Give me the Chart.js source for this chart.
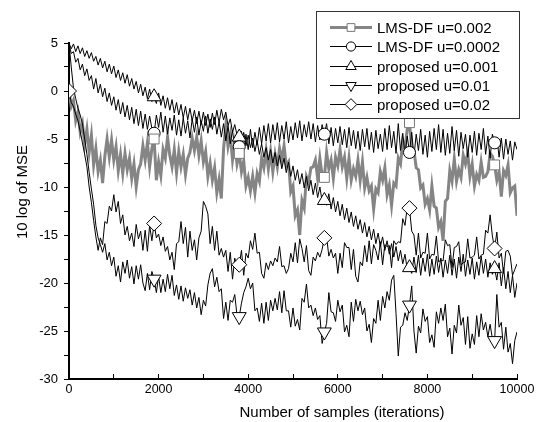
<!DOCTYPE html>
<html><head><meta charset="utf-8">
<script src="https://cdn.jsdelivr.net/npm/chart.js"></script>
<style>html,body{margin:0;padding:0;background:#fff}</style>
</head><body>
<canvas id="c" width="543" height="422"></canvas>
<script>
// ---------------- DATA ----------------
const seriesNames = ['LMS-DF u=0.002', 'LMS-DF u=0.0002', 'proposed u=0.001', 'proposed u=0.01', 'proposed u=0.02'];
const sampleStep = 50;
const samples = Array.from({length: 201}, (_, i) => i * sampleStep);

const lmsDf002 = [
 0, -1.6, -1.0, -3.1, -2.2, -4.3, -3.4, -5.6, -4.0, -6.4,
 -4.6, -7.7, -6.0, -8.4, -7.2, -9.6, -6.8, -5.0, -6.9, -5.1,
 -7.2, -5.8, -8.3, -6.6, -8.6, -6.5, -8.2, -7.0, -9.1, -7.6,
 -10.0, -8.2, -7.6, -5.7, -7.2, -5.4, -7.9, -6.0, -5.0, -9.3,
 -7.4, -8.8, -6.1, -7.0, -4.8, -6.7, -7.9, -6.1, -8.5, -6.3,
 -7.9, -6.6, -8.7, -7.0, -6.4, -4.9, -6.2, -4.8, -6.7, -5.2,
 -7.4, -6.3, -8.9, -7.5, -9.3, -8.0, -10.6, -9.2, -11.2, -6.0,
 -3.6, -5.8, -4.6, -7.2, -5.5, -7.6, -6.5, -8.4, -7.3, -9.9,
 -9.0, -10.4, -8.9, -10.6, -8.6, -9.4, -7.0, -8.0, -6.2, -8.1,
 -6.3, -8.4, -6.6, -7.9, -6.0, -7.2, -5.7, -7.8, -7.4, -10.5,
 -9.9, -13.0, -12.4, -15.0, -11.4, -12.2, -8.9, -9.5, -8.0, -7.9,
 -7.2, -9.1, -7.0, -8.8, -9.0, -6.4, -8.1, -7.2, -9.1, -6.9,
 -7.8, -6.1, -7.9, -6.9, -9.1, -7.0, -9.3, -8.1, -8.9, -7.2,
 -9.3, -7.4, -10.1, -9.0, -10.4, -9.9, -12.3, -10.2, -10.6, -8.4,
 -9.3, -8.0, -10.8, -9.8, -11.9, -9.6, -9.9, -7.0, -7.6, -5.2,
 -6.0, -4.0, -3.3, -6.0, -6.2, -8.0, -8.2, -10.1, -9.8, -11.8,
 -11.2, -12.4, -9.9, -12.0, -12.2, -14.2, -13.6, -15.6, -11.5, -11.2,
 -8.3, -9.4, -7.1, -9.4, -8.2, -9.0, -6.7, -7.6, -6.5, -8.9,
 -7.6, -9.9, -8.7, -9.3, -7.4, -9.0, -8.9, -8.4, -6.5, -6.8,
 -7.7, -9.3, -8.4, -11.0, -8.3, -8.8, -7.7, -10.6, -10.1, -9.9,
 -13.0];

const lmsDf0002 = [
 5, 3.9, 4.1, 3.0, 3.4, 2.2, 2.8, 1.6, 2.3, 1.1,
 1.6, 0.2, 1.3, -0.2, 0.7, -0.6, 0.3, -1.1, -0.2, -1.5,
 -0.6, -2.0, -0.9, -2.4, -1.2, -2.7, -1.5, -3.0, -1.7, -3.4,
 -1.9, -3.6, -2.1, -3.9, -2.4, -4.0, -2.6, -3.9, -4.4, -2.5,
 -3.8, -2.2, -4.3, -2.6, -4.5, -2.8, -4.1, -2.5, -4.6, -3.0,
 -4.7, -2.8, -4.4, -3.1, -4.9, -2.9, -4.3, -2.7, -4.6, -3.1,
 -4.2, -2.6, -4.4, -2.9, -4.0, -2.7, -4.5, -3.2, -4.8, -3.4,
 -5.2, -3.6, -5.5, -4.1, -6.0, -4.3, -5.8, -4.2, -6.3, -4.5,
 -6.1, -4.0, -5.9, -4.3, -5.6, -3.8, -5.5, -3.6, -5.2, -3.4,
 -5.4, -3.5, -5.1, -3.3, -5.3, -3.6, -5.0, -3.2, -5.4, -3.7,
 -5.1, -3.3, -4.9, -3.1, -5.2, -3.5, -4.8, -3.2, -5.0, -3.4,
 -5.3, -3.6, -5.1, -3.5, -4.5, -3.4, -5.5, -3.8, -5.7, -3.9,
 -5.4, -3.7, -5.6, -4.0, -5.9, -3.8, -5.7, -4.1, -6.0, -4.2,
 -6.2, -4.0, -5.8, -3.9, -6.1, -4.3, -6.4, -4.1, -6.0, -4.5,
 -6.3, -3.9, -6.1, -3.6, -5.9, -4.2, -6.5, -3.4, -6.2, -4.4,
 -6.6, -4.7, -6.4, -4.3, -6.8, -4.5, -6.2, -4.0, -6.6, -4.6,
 -6.9, -4.2, -6.3, -3.9, -6.1, -3.5, -6.4, -4.0, -6.7, -4.4,
 -6.5, -3.7, -6.2, -4.1, -6.8, -4.3, -6.0, -4.5, -6.9, -4.6,
 -6.4, -4.2, -6.7, -4.4, -6.1, -3.9, -6.6, -4.7, -7.0, -4.5,
 -5.4, -4.8, -6.9, -4.9, -7.1, -5.0, -6.6, -5.2, -7.2, -5.3,
 -6.1];

const proposed001 = [
 5, 4.4, 4.9, 4.1, 4.7, 3.9, 4.5, 3.6, 4.2, 3.4,
 4.0, 3.1, 3.6, 2.7, 3.4, 2.4, 3.1, 2.0, 2.8, 1.8,
 2.6, 1.4, 2.2, 1.1, 1.9, 0.8, 1.7, 0.5, 1.3, 0.2,
 1.0, -0.2, 0.7, -0.5, 0.4, -0.8, 0.2, -1.1, -0.6, -1.3,
 -0.2, -1.5, -0.5, -1.8, -0.7, -2.0, -0.9, -2.3, -1.2, -2.5,
 -1.4, -2.8, -1.6, -3.0, -1.8, -3.1, -2.0, -3.4, -2.1, -3.5,
 -2.2, -3.6, -2.4, -3.8, -2.3, -3.5, -2.0, -3.3, -1.9, -3.0,
 -2.2, -3.6, -2.9, -4.3, -3.5, -4.6, -4.8, -5.4, -4.3, -5.7,
 -4.6, -5.9, -4.9, -6.3, -5.2, -6.6, -5.5, -6.9, -5.9, -7.2,
 -6.1, -7.5, -6.4, -7.8, -6.7, -8.1, -7.0, -8.5, -7.4, -8.9,
 -7.8, -9.3, -8.2, -9.7, -8.6, -10.1, -8.9, -10.4, -9.3, -10.8,
 -9.6, -11.1, -10.0, -11.5, -11.4, -11.9, -10.7, -12.3, -11.1, -12.6,
 -11.5, -13.0, -11.8, -13.4, -12.2, -13.7, -12.6, -14.1, -13.0, -14.4,
 -13.4, -14.8, -13.7, -15.2, -14.1, -15.5, -14.4, -15.9, -14.8, -16.2,
 -15.2, -16.6, -15.6, -17.0, -15.9, -17.3, -16.2, -17.7, -16.6, -18.0,
 -17.0, -18.6, -18.4, -19.0, -17.3, -18.9, -17.1, -19.2, -17.4, -18.8,
 -17.0, -19.3, -17.5, -19.1, -17.2, -18.9, -17.4, -19.4, -17.6, -19.0,
 -17.1, -19.2, -17.5, -19.5, -17.3, -18.8, -17.0, -19.3, -17.6, -19.1,
 -17.4, -19.6, -17.8, -19.2, -17.2, -19.0, -17.5, -19.4, -17.9, -19.1,
 -18.5, -19.7, -17.9, -20.3, -18.4, -20.6, -18.8, -21.0, -19.2, -21.5,
 -20.0];

const proposed01 = [
 5, 2.5, 0.3, -0.8, -1.8, -2.5, -3.4, -5.0, -6.6, -8.5,
 -10.2, -11.8, -14.0, -15.3, -16.0, -16.8, -15.9, -17.6, -16.8, -18.2,
 -17.3, -19.3, -18.2, -19.9, -17.8, -19.0, -17.6, -19.5, -18.3, -20.1,
 -18.2, -19.6, -18.1, -20.0, -20.8, -19.0, -20.7, -18.8, -19.6, -21.0,
 -19.3, -21.0, -19.6, -20.9, -19.1, -20.6, -19.2, -21.3, -20.2, -21.7,
 -20.3, -21.9, -20.5, -21.6, -20.7, -22.3, -21.0, -22.6, -21.5, -23.3,
 -21.8, -22.4, -20.2, -19.0, -18.5, -20.4, -19.4, -20.9, -20.6, -23.7,
 -22.0, -23.9, -21.8, -22.0, -21.2, -23.4, -23.5, -22.1, -21.0, -20.4,
 -19.5, -20.6, -20.0, -22.9, -22.6, -24.0, -22.1, -24.2, -22.0, -23.9,
 -21.8, -22.9, -21.6, -22.8, -20.9, -23.1, -20.8, -22.9, -22.9, -24.6,
 -22.6, -24.5, -23.8, -24.9, -21.6, -22.0, -20.1, -22.6, -22.3, -23.4,
 -22.6, -23.8, -23.4, -26.3, -25.1, -24.2, -21.0, -23.0, -23.1, -24.0,
 -21.8, -23.0, -22.3, -25.1, -24.4, -25.6, -22.0, -24.0, -21.7, -22.9,
 -21.9, -23.3, -22.6, -25.0, -24.3, -26.2, -23.7, -24.2, -21.8, -23.9,
 -21.4, -22.6, -20.9, -21.8, -19.7, -19.2, -23.2, -27.6, -24.6, -24.4,
 -23.1, -23.9, -22.3, -20.3, -25.0, -27.3, -24.5, -25.2, -22.7, -24.0,
 -23.5, -26.2, -25.4, -26.7, -23.0, -24.2, -22.6, -23.9, -22.2, -25.6,
 -24.7, -27.4, -24.4, -25.2, -22.3, -24.4, -23.6, -26.4, -23.5, -26.8,
 -25.3, -26.4, -23.4, -25.6, -23.2, -24.9, -24.1, -25.6, -24.3, -25.8,
 -26.0, -21.2, -24.6, -24.1, -26.9, -24.6, -27.2, -26.3, -28.4, -26.0,
 -25.1];

const proposed02 = [
 0, -1.2, -1.6, -2.4, -3.1, -4.2, -5.4, -6.6, -7.9, -10.0,
 -11.6, -13.5, -15.2, -16.6, -15.3, -16.0, -13.6, -13.8, -12.0, -12.5,
 -10.8, -12.6, -11.5, -13.8, -12.9, -15.0, -14.1, -15.6, -14.8, -16.2,
 -13.9, -15.4, -14.6, -16.6, -14.5, -16.7, -14.0, -15.6, -13.8, -15.3,
 -14.9, -16.1, -15.2, -16.7, -16.2, -17.6, -16.8, -18.6, -15.9, -15.7,
 -13.6, -15.9, -14.2, -17.3, -14.6, -16.6, -15.5, -17.6, -15.3, -14.6,
 -11.5, -12.0, -12.8, -15.9, -14.1, -16.6, -14.6, -17.1, -16.4, -17.3,
 -16.6, -18.8, -16.8, -19.6, -17.4, -18.4, -18.1, -16.6, -19.2, -16.9,
 -17.4, -15.6, -16.5, -14.8, -16.9, -16.8, -19.0, -19.5, -17.9, -18.6,
 -17.7, -18.2, -17.4, -17.8, -16.2, -18.3, -18.2, -19.0, -18.5, -16.9,
 -17.8, -15.8, -17.9, -15.4, -16.4, -17.8, -16.1, -18.7, -19.2, -17.3,
 -17.7, -16.8, -17.3, -16.5, -15.3, -15.2, -17.2, -16.5, -17.4, -16.9,
 -19.0, -16.9, -18.4, -15.8, -16.3, -16.3, -18.6, -16.5, -19.3, -19.9,
 -17.8, -18.2, -16.1, -17.8, -15.6, -18.0, -16.0, -16.6, -17.6, -15.7,
 -18.1, -16.0, -16.2, -16.1, -18.4, -15.6, -16.0, -15.7, -15.8, -13.3,
 -14.0, -12.1, -12.2, -14.6, -15.0, -17.1, -14.8, -17.4, -16.8, -16.9,
 -14.8, -17.5, -17.0, -17.1, -15.1, -17.8, -17.6, -17.7, -15.5, -16.1,
 -16.0, -18.4, -16.3, -16.2, -15.7, -18.1, -17.9, -17.8, -15.4, -17.4,
 -17.3, -17.1, -15.2, -17.5, -17.1, -17.0, -14.5, -14.8, -12.9, -15.1,
 -16.4, -14.7, -17.4, -16.9, -19.0, -16.7, -16.6, -17.2, -19.2, -18.6,
 -18.0];

// indices (into samples) where each curve carries a marker symbol
const markersLmsDf002 = [38, 76, 114, 152, 190];
const markersLmsDf0002 = [38, 76, 114, 152, 190];
const markersProposed001 = [38, 76, 114, 152, 190];
const markersProposed01 = [38, 76, 114, 152, 190];
const markersProposed02 = [0, 38, 76, 114, 152, 190];

const xTickValues = [0, 1000, 2000, 3000, 4000, 5000, 6000, 7000, 8000, 9000, 10000];
const xTickLabels = ['0', '', '2000', '', '4000', '', '6000', '', '8000', '', '10000'];
const yTickValues = [5, 2.5, 0, -2.5, -5, -7.5, -10, -12.5, -15, -17.5, -20, -22.5, -25, -27.5, -30];
const yTickLabels = ['5', '', '0', '', '-5', '', '-10', '', '-15', '', '-20', '', '-25', '', '-30'];
const xTitle = 'Number of samples (iterations)';
const yTitle = '10 log of MSE';

// ---------------- STYLE ----------------
const FONT = "'Liberation Sans', Arial, Helvetica, sans-serif";
const styles = [
  {color: '#858585', width: 3, marker: 'rect', radius: 7, rot: 0, mColor: '#777', lRadius: 5.5},
  {color: '#000', width: 1, marker: 'circle', radius: 6, rot: 0, mColor: '#000', lRadius: 4.6},
  {color: '#000', width: 1, marker: 'triangle', radius: 8, rot: 0, mColor: '#000', lRadius: 6},
  {color: '#000', width: 1, marker: 'triangle', radius: 8, rot: 180, mColor: '#000', lRadius: 6},
  {color: '#000', width: 1, marker: 'rectRot', radius: 7.5, rot: 0, mColor: '#000', lRadius: 5.8}
];
const seriesValues = [lmsDf002, lmsDf0002, proposed001, proposed01, proposed02];
const seriesMarkers = [markersLmsDf002, markersLmsDf0002, markersProposed001, markersProposed01, markersProposed02];

const datasets = [];
seriesValues.forEach((vals, s) => {
  datasets.push({
    label: seriesNames[s],
    data: vals.map((v, i) => ({x: samples[i], y: v})),
    borderColor: styles[s].color,
    borderWidth: styles[s].width,
    pointRadius: 0,
    tension: 0,
    fill: false,
    order: s === 0 ? 3 : 2
  });
});
seriesValues.forEach((vals, s) => {
  datasets.push({
    label: seriesNames[s] + ' markers',
    data: seriesMarkers[s].map(i => ({x: samples[i], y: vals[i]})),
    showLine: false,
    pointStyle: styles[s].marker,
    pointRadius: styles[s].radius,
    pointRotation: styles[s].rot,
    pointBackgroundColor: '#fff',
    pointBorderColor: styles[s].mColor,
    pointBorderWidth: 1,
    order: 1,
    clip: 0
  });
});

function drawMarker(ctx, style, radius, rotation, x, y) {
  if (Chart.helpers && Chart.helpers.drawPoint) {
    Chart.helpers.drawPoint(ctx, {pointStyle: style, radius: radius, rotation: rotation, borderWidth: 1}, x, y);
    return;
  }
  ctx.beginPath();
  ctx.arc(x, y, radius, 0, Math.PI * 2);
  ctx.fill(); ctx.stroke();
}

const boxLegend = {
  id: 'boxLegend',
  afterDraw(chart) {
    const ctx = chart.ctx;
    ctx.save();
    const bx = 316.5, by = 11.5, bw = 203, bh = 107;
    ctx.fillStyle = '#fff';
    ctx.fillRect(bx, by, bw, bh);
    ctx.strokeStyle = '#333';
    ctx.lineWidth = 1;
    ctx.strokeRect(bx, by, bw, bh);
    ctx.font = '15px ' + FONT;
    ctx.textBaseline = 'middle';
    ctx.textAlign = 'left';
    seriesNames.forEach((name, s) => {
      const st = styles[s];
      const y = Math.round(27 + s * 19.3) + 0.5;
      ctx.strokeStyle = st.color;
      ctx.lineWidth = st.width;
      ctx.beginPath();
      ctx.moveTo(330, y);
      ctx.lineTo(372, y);
      ctx.stroke();
      ctx.fillStyle = '#fff';
      ctx.strokeStyle = st.mColor;
      ctx.lineWidth = 1;
      drawMarker(ctx, st.marker, st.lRadius, st.rot, 351, y);
      ctx.fillStyle = '#000';
      ctx.fillText(name, 377, y + 1);
    });
    ctx.restore();
  }
};

const axisTitles = {
  id: 'axisTitles',
  afterDraw(chart) {
    const ctx = chart.ctx;
    ctx.save();
    ctx.fillStyle = '#000';
    ctx.font = '15px ' + FONT;
    ctx.textAlign = 'center';
    ctx.textBaseline = 'middle';
    ctx.fillText(xTitle, 342, 413);
    ctx.translate(22.5, 192);
    ctx.rotate(-Math.PI / 2);
    ctx.fillText(yTitle, 0, 0);
    ctx.restore();
  }
};

new Chart(document.getElementById('c'), {
  type: 'line',
  data: {datasets: datasets},
  options: {
    responsive: false,
    animation: false,
    devicePixelRatio: 1,
    layout: {padding: {top: 43, right: 26, left: 0, bottom: 0}},
    plugins: {legend: {display: false}, tooltip: {enabled: false}, title: {display: false}},
    scales: {
      x: {
        type: 'linear', min: 0, max: 10000,
        afterBuildTicks: (scale) => { scale.ticks = xTickValues.map(v => ({value: v})); },
        afterFit: (scale) => { scale.height = 43; },
        grid: {drawOnChartArea: false, drawTicks: true, tickLength: -5, color: '#000', tickWidth: 1},
        border: {display: true, color: '#000', width: 2},
        ticks: {
          autoSkip: false, maxRotation: 0, padding: 8, color: '#000',
          font: {family: FONT, size: 12.5},
          callback: (v) => { const k = xTickValues.indexOf(v); return k >= 0 ? xTickLabels[k] : ''; }
        },
        title: {display: false}
      },
      y: {
        type: 'linear', min: -30, max: 5,
        afterBuildTicks: (scale) => { scale.ticks = yTickValues.map(v => ({value: v})); },
        afterFit: (scale) => { scale.width = 69; },
        grid: {drawOnChartArea: false, drawTicks: true, tickLength: 5, color: '#000', tickWidth: 1},
        border: {display: true, color: '#000', width: 2},
        ticks: {
          autoSkip: false, padding: 6, color: '#000',
          font: {family: FONT, size: 13},
          callback: (v) => { const k = yTickValues.indexOf(v); return k >= 0 ? yTickLabels[k] : ''; }
        },
        title: {display: false}
      }
    }
  },
  plugins: [boxLegend, axisTitles]
});
</script>
</body></html>
